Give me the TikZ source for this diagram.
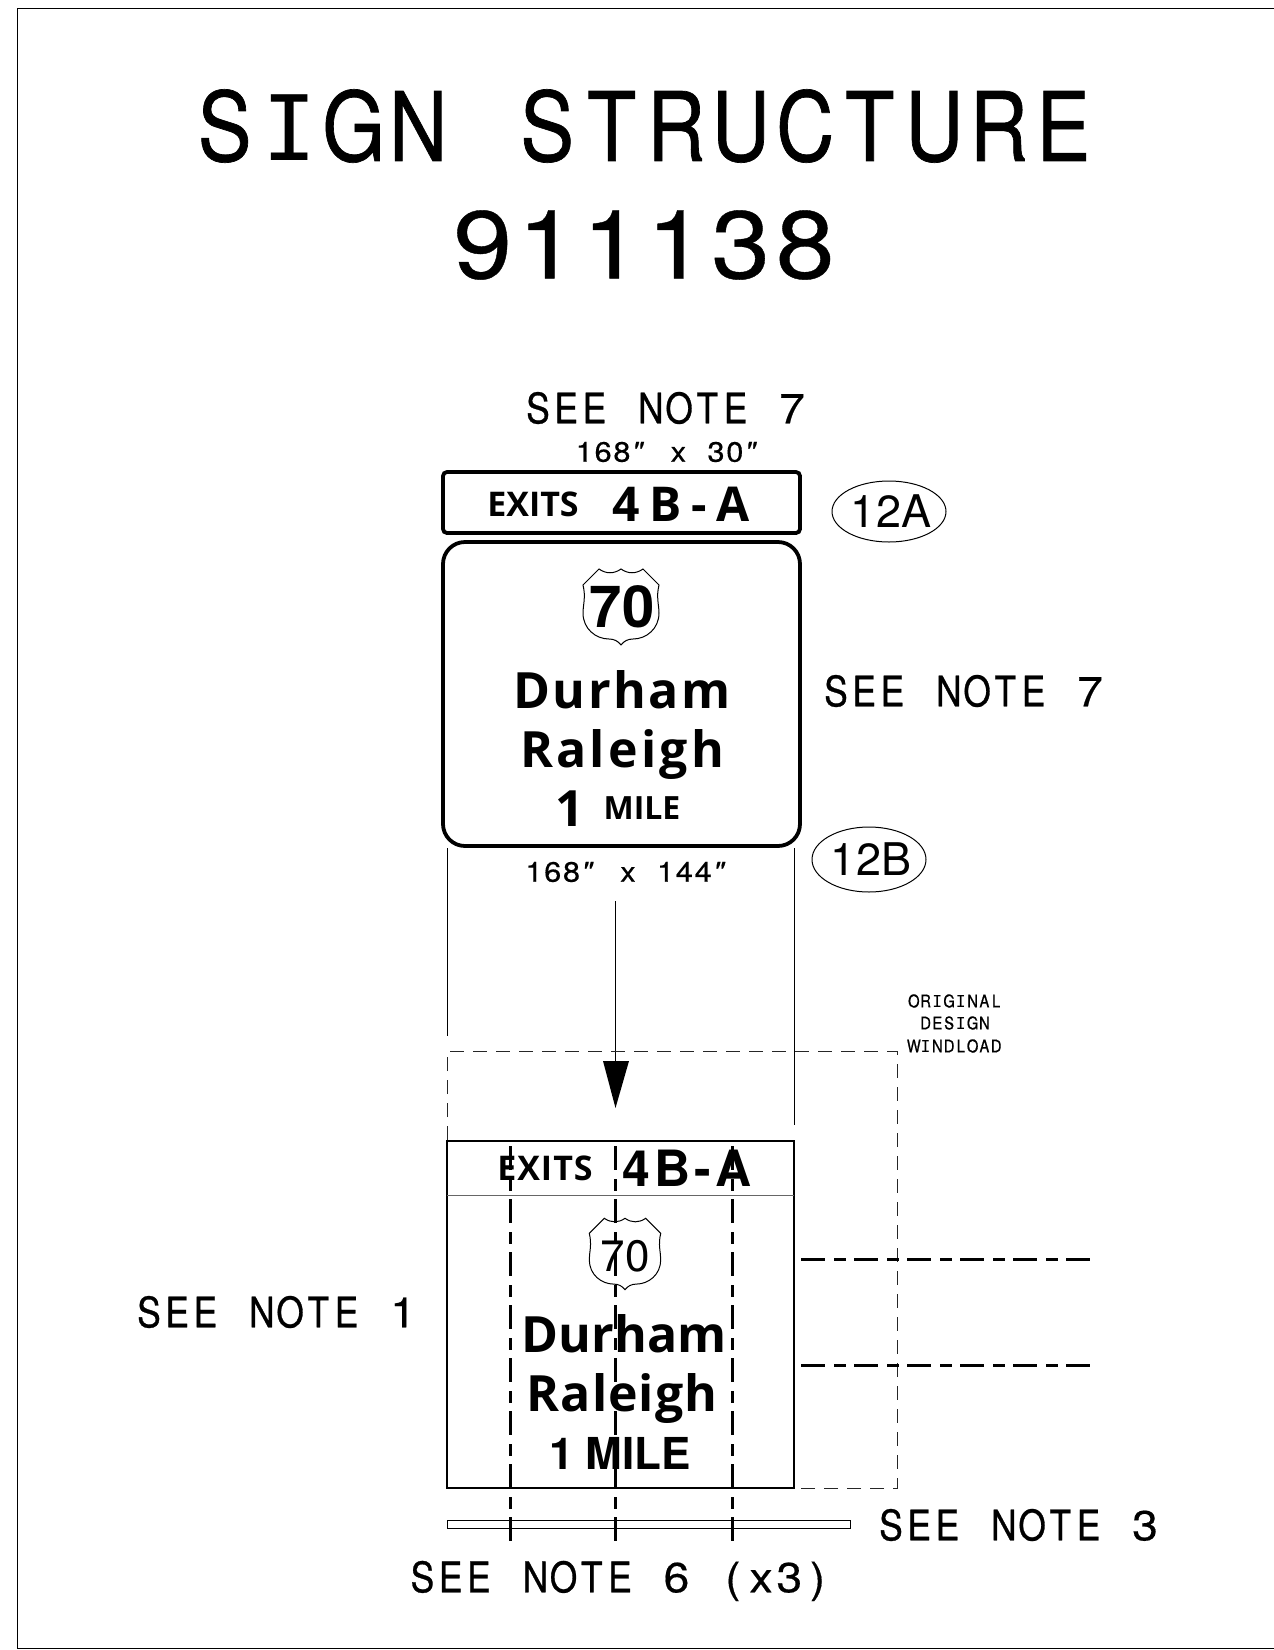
\documentclass[tikz,border=0pt]{standalone}
\usepackage{fontspec}
\setmainfont{TeX Gyre Heros}
\newfontfamily\cadsans{TeX Gyre Heros}[FakeStretch=0.84,FakeBold=0.7]
\newfontfamily\caddigit{TeX Gyre Heros}[FakeStretch=1.1,FakeBold=0.4]
\newfontfamily\cadserif{DejaVu Sans Mono}[Scale=0.94]
\newfontfamily\signbold{Open Sans}[UprightFont=* Bold]
\newcommand{\cadtext}[1]{\fontsize{\dimexpr#1pt/2\relax}{\dimexpr#1pt*3/5\relax}\selectfont}
\newcommand{\inch}{\kern-0.4em{\addfontfeatures{FakeSlant=0.25}"}}
\makeatletter
\def\mono@I{I}
\newcommand{\monotext}[1]{\@tfor\mono@c:=#1\do{\makebox[0.672em]{\ifx\mono@c\mono@I\cadserif\fi\mono@c}}}
\newcommand{\monodigits}[1]{{\caddigit\@tfor\mono@c:=#1\do{\makebox[0.672em]{\mono@c}}}}
\makeatother
\tikzset{
  x=0.5pt,y=-0.5pt,
  every node/.style={inner sep=0pt,outer sep=0pt},
  label/.style={font=\cadsans},
  thinline/.style={line width=0.5pt,black},
  medline/.style={line width=0.75pt,black},
  thickline/.style={line width=1.9pt,black},
  guide/.style={line width=0.45pt,black!85,dash pattern=on 7pt off 4.5pt},
  cutline/.style={line width=1.1pt,dash pattern=on 12pt off 4.5pt on 6pt off 4pt},
  cutlineh/.style={line width=1.5pt,dash pattern=on 12pt off 4.5pt on 6pt off 4pt},
}
\newcommand{\shieldpath}{(-38,-22) -- (-22,-38) .. controls (-15,-33) and (-7,-33) .. (0,-38) .. controls (7,-33) and (15,-33) .. (22,-38) -- (38,-22) .. controls (35,-10) and (38,-2) .. (38,6) .. controls (38,22) and (25,32) .. (12,32) .. controls (7,32) and (3,34) .. (0,38) .. controls (-3,34) and (-7,32) .. (-12,32) .. controls (-25,32) and (-38,22) .. (-38,6) .. controls (-38,-2) and (-35,-10) .. (-38,-22) -- cycle}
\begin{document}
\begin{tikzpicture}
\useasboundingbox (0,0) rectangle (1274,1650);
\fill[white] (0,0) rectangle (1274,1650);
\draw[thinline] (1274,1648) -- (17,1648) -- (17,8) -- (1274,8);
% titles
\node[label] (t1) at (644,126) {\cadtext{96}\monotext{SIGN~STRUCTURE}};
\node[label] (t2) at (644,245) {\cadtext{96}\monodigits{911138}};
\node[label] (n7a) at (665,408) {\cadtext{42}\monotext{SEE~NOTE~}\monodigits{7}};
\node[label] (d1) at (669,452) {\cadtext{28}\monodigits{168\inch~x~30\inch}};
% upper exit panel
\draw[thickline,rounded corners=2] (443,472) rectangle (800,533);
\node[font=\signbold] (ex) at (533,504) {\cadtext{34}EXITS};
\node[font=\signbold] (num) at (681,504) {\cadtext{48}\addfontfeatures{LetterSpace=20}4B-A};
\draw[thinline] (889,511.5) ellipse (57 and 30.5);
\node (e12a) at (891,511.5) {\cadtext{45}12A};
% main panel
\draw[thickline,rounded corners=11] (443,542) rectangle (800,846);
\begin{scope}[shift={(621,607)}]
\draw[thinline,fill=white] \shieldpath;
\end{scope}
\node[font=\bfseries] (s70) at (622,607) {\cadtext{58}70};
\node[font=\signbold] (dur) at (622,690) {\cadtext{50}\addfontfeatures{LetterSpace=5}Durham};
\node[font=\signbold] (ral) at (622,755) {\cadtext{50}\addfontfeatures{LetterSpace=6.5}Raleigh};
\node[font=\signbold] (one) at (570,809) {\cadtext{50}1};
\node[font=\signbold] (mile) at (642,808) {\cadtext{32}MILE};
\node[label] (d2) at (628,872) {\cadtext{28}\monodigits{168\inch~x~144\inch}};
\draw[thinline] (869,859.5) ellipse (57 and 32.5);
\node (e12b) at (871,859.5) {\cadtext{45}12B};
\node[label] (n7b) at (963,691) {\cadtext{42}\monotext{SEE~NOTE~}\monodigits{7}};
% projection lines
\coordinate (pl1) at (447,848); \coordinate (pl1b) at (447,1036);
\coordinate (pl2) at (794,848); \coordinate (pl2b) at (794,1125);
\draw[thinline] (pl1) -- (pl1b);
\draw[thinline] (pl2) -- (pl2b);
\coordinate (ar1) at (615.5,901); \coordinate (ar2) at (615.5,1061); \coordinate (ar3) at (615.5,1108);
\draw[medline] (ar1) -- (ar2);
\fill (603,1061) -- (629,1061) -- (ar3) -- cycle;
% design windload
\draw[guide] (447,1140) -- (447,1051) -- (897,1051) -- (897,1488) -- (800,1488);
\node[label] (w1) at (955,1001) {\cadtext{17.5}\monotext{ORIGINAL}};
\node[label] (w2) at (955,1023) {\cadtext{17.5}\monotext{DESIGN}};
\node[label] (w3) at (955,1046) {\cadtext{17.5}\monotext{WINDLOAD}};
% lower panel
\node[font=\signbold] (lex) at (545,1168) {\cadtext{34}\addfontfeatures{LetterSpace=3}EXITS};
\node[font=\bfseries] (lnum) at (687,1168) {\cadtext{50}\addfontfeatures{LetterSpace=8}4B-A};
\begin{scope}[shift={(625,1254)},scale=0.94]
\draw[thinline,fill=white] \shieldpath;
\end{scope}
\node (l70) at (625,1256) {\cadtext{44}70};
\node[font=\signbold] (ldur) at (624,1334) {\cadtext{50}\addfontfeatures{LetterSpace=0.5}Durham};
\node[font=\signbold] (lral) at (622,1398) {\cadtext{50}\addfontfeatures{LetterSpace=2}Raleigh};
\node[font=\bfseries] (lmile) at (620,1453) {\cadtext{44}1 MILE};
\draw[medline] (447,1141) rectangle (794,1488);
\draw[thinline,black!60] (447,1195) -- (794,1195);
% columns
\draw[cutline] (510.5,1146) -- (510.5,1541);
\draw[cutline] (615.5,1146) -- (615.5,1541);
\draw[cutline] (732.5,1146) -- (732.5,1541);
\draw[cutlineh] (801,1259.5) -- (1090,1259.5);
\draw[cutlineh] (801,1365.5) -- (1090,1365.5);
\draw[thinline] (447,1520) rectangle (850,1528);
\node[label] (n1) at (276,1312) {\cadtext{42}\monotext{SEE~NOTE~}\monodigits{1}};
\node[label] (n3) at (1018,1525) {\cadtext{42}\monotext{SEE~NOTE~}\monodigits{3}};
\node[label] (n6) at (620,1581) {\cadtext{42}\monotext{SEE~NOTE~}\monodigits{6~(x3)}};
\end{tikzpicture}
\end{document}
